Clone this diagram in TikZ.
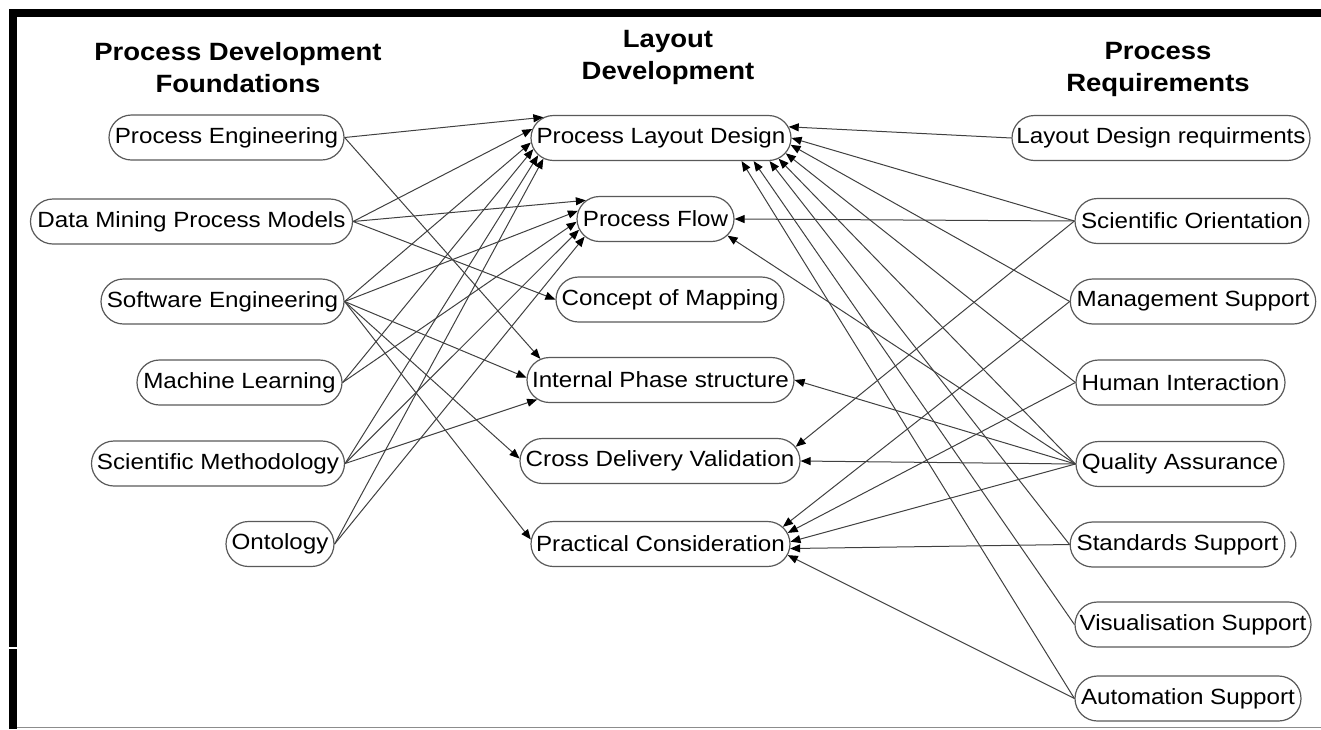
\documentclass[tikz,border=0pt]{standalone}
\usepackage{fontspec}
\setmainfont{Liberation Sans}[FakeStretch=1.1]
\usetikzlibrary{shapes.misc,arrows.meta}

\tikzset{
  box/.style={rounded rectangle, draw=black!65, line width=0.6pt,
    minimum height=22.5pt, inner xsep=2pt, inner ysep=0pt,
    font=\fontsize{11}{13}\selectfont, text=black},
  head/.style={align=center, inner sep=0pt,
    font=\fontsize{12.5}{16}\selectfont\bfseries},
  conn/.style={draw=black!75, line width=0.5pt,
    -{Triangle[length=5pt,width=4pt,color=black]}},
}

\begin{document}
\begin{tikzpicture}[x=0.5pt, y=-0.5pt]
\useasboundingbox (0,0) rectangle (1321,729);

% frame
\fill[black] (9,9) rectangle (1321,17);
\fill[black] (9,9) rectangle (17,647);
\fill[black] (9,649) rectangle (17,729);
\draw[black!45, line width=0.75pt] (17,727.5) -- (1321,727.5);

% column headings
\node[head, anchor=north] (h1) at (238,42) {Process Development\\Foundations};
\node[head, anchor=north] (h2) at (668,30) {Layout\\Development};
\node[head, anchor=north] (h3) at (1158,42) {Process\\Requirements};

% foundations
\node[box, minimum width=121.5pt] (pe) at (226.5,137.5) {Process Engineering};
\node[box, minimum width=165pt]   (dm) at (191.5,221.5) {Data Mining Process Models};
\node[box, minimum width=125.5pt] (se) at (222.5,301.5) {Software Engineering};
\node[box, minimum width=106.5pt] (ml) at (239.5,382.5) {Machine Learning};
\node[box, minimum width=130.5pt] (sm) at (218,463.5)   {Scientific Methodology};
\node[box, minimum width=58pt]    (on) at (280,544)     {Ontology};

% layout development
\node[box, minimum width=134pt]   (pld) at (661,138)   {Process Layout Design};
\node[box, minimum width=82.5pt]  (pf)  at (655.5,219) {Process Flow};
\node[box, minimum width=118pt]   (cm)  at (670,299.5) {Concept of Mapping};
\node[box, minimum width=137.5pt] (ips) at (660.5,380) {Internal Phase structure};
\node[box, minimum width=144pt]   (cdv) at (660,461)   {Cross Delivery Validation};
\node[box, minimum width=133.5pt] (pc)  at (660.5,544) {Practical Consideration};

% requirements
\node[box, minimum width=153pt]   (ldr) at (1161,138)    {Layout Design requirments};
\node[box, minimum width=121pt]   (so)  at (1192,221)    {Scientific Orientation};
\node[box, minimum width=122pt]   (ms)  at (1193,301.5)  {Management Support};
\node[box, minimum width=108.5pt] (hi)  at (1180.5,382.5){Human Interaction};
\node[box, minimum width=108pt]   (qa)  at (1180,464)    {Quality Assurance};
\node[box, minimum width=105.5pt] (ss)  at (1177.5,544.5){Standards Support};
\node[box, minimum width=122pt]   (vs)  at (1193,624.5)  {Visualisation Support};
\node[box, minimum width=117pt]   (as)  at (1188,698.5)  {Automation Support};

% stray outline stroke beside Standards Support
\draw[draw=black!65, line width=0.6pt]
  ([xshift=2.5pt,yshift=6.5pt]ss.east) to[bend left=45] ([xshift=2.5pt,yshift=-6.5pt]ss.east);

% foundations -> layout development
\draw[conn] (pe.east) -- (pld.170);
\draw[conn] (dm.east) -- (pld.176);
\draw[conn] (se.east) -- (pld.182);
\draw[conn] (ml.east) -- (pld.185);
\draw[conn] (sm.east) -- (pld.188);
\draw[conn] (on.east) -- (pld.190.5);

\draw[conn] (dm.east) -- (pf.165);
\draw[conn] (se.east) -- (pf.174);
\draw[conn] (ml.east) -- (pf.182);
\draw[conn] (sm.east) -- (pf.188);
\draw[conn] (on.east) -- (pf.194);

\draw[conn] (dm.east) -- (cm.west);
\draw[conn] (pe.east) -- (ips.170);
\draw[conn] (se.east) -- (ips.179);
\draw[conn] (sm.east) -- (ips.189);
\draw[conn] (se.east) -- (cdv.179);
\draw[conn] (se.east) -- (pc.178);

% requirements -> layout development
\draw[conn] (ldr.west) -- (pld.5.5);
\draw[conn] (so.west)  -- (pld.0);
\draw[conn] (ms.west)  -- (pld.-3.5);
\draw[conn] (hi.west)  -- (pld.-7);
\draw[conn] (qa.west)  -- (pld.-10);
\draw[conn] (ss.west)  -- (pld.-12.8);
\draw[conn] (vs.west)  -- (pld.-14.3);
\draw[conn] (as.west)  -- (pld.-16.5);

\draw[conn] (so.west) -- (pf.east);
\draw[conn] (qa.west) -- (pf.-13);
\draw[conn] (qa.west) -- (ips.east);
\draw[conn] (so.west) -- (cdv.6);
\draw[conn] (qa.west) -- (cdv.east);

\draw[conn] (ms.west) -- (pc.8.5);
\draw[conn] (hi.west) -- (pc.5.6);
\draw[conn] (qa.west) -- (pc.1.3);
\draw[conn] (ss.west) -- (pc.-2.6);
\draw[conn] (as.west) -- (pc.-5.9);
\end{tikzpicture}
\end{document}
